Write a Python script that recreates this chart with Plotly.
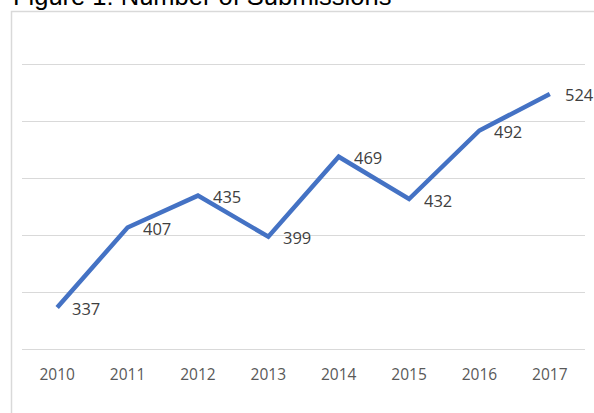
import plotly.graph_objects as go

years = ["2010", "2011", "2012", "2013", "2014", "2015", "2016", "2017"]
submissions = [337, 407, 435, 399, 469, 432, 492, 524]
y_ticks = [300, 350, 400, 450, 500, 550]

W, H = 594, 413
ml, mr, mt, mb = 22, 9, 62, 61
pw, ph = W - ml - mr, H - mt - mb
y_lo, y_hi = 298, 552

def px_x(px):
    return (px - ml) / pw

def px_y(py):
    return (H - mb - py) / ph

xi = list(range(len(years)))

fig = go.Figure()
fig.add_trace(go.Scatter(
    x=xi, y=submissions, mode="lines",
    line=dict(color="#4472C4", width=4.5, shape="linear"),
    hoverinfo="skip", showlegend=False, cliponaxis=False,
))

for i, v in zip(xi, submissions):
    fig.add_annotation(
        x=i, y=v, xref="x", yref="y", text=str(v), showarrow=False,
        xanchor="left", yanchor="middle", xshift=13, yshift=-1,
        font=dict(family="Open Sans", size=16.5, color="#404040"),
    )

# outer chart border
fig.add_shape(type="rect", xref="paper", yref="paper",
              x0=px_x(11.5), y0=px_y(430), x1=px_x(620), y1=px_y(11.5),
              line=dict(color="#D9D9D9", width=1.5), fillcolor="rgba(0,0,0,0)",
              layer="below")

fig.add_annotation(
    text="Figure 1: Number of Submissions", xref="paper", yref="paper",
    x=px_x(11), y=px_y(12), xanchor="left", yanchor="bottom", showarrow=False,
    font=dict(family="Liberation Sans, Arial", size=25.5, color="#000000"),
)

fig.update_layout(
    width=W, height=H,
    margin=dict(l=ml, r=mr, t=mt, b=mb, pad=0, autoexpand=False),
    paper_bgcolor="white", plot_bgcolor="white",
    xaxis=dict(range=[-0.5, len(years) - 0.5], tickvals=xi, ticktext=years,
               showgrid=False, zeroline=False, showline=False,
               ticks="outside", ticklen=8, tickcolor="rgba(0,0,0,0)",
               tickfont=dict(family="Open Sans", size=15.5, color="#595959"),
               fixedrange=True, automargin=False),
    yaxis=dict(range=[y_lo, y_hi], tickvals=y_ticks, showticklabels=False,
               showgrid=True, gridcolor="#D9D9D9", gridwidth=1.3,
               zeroline=False, showline=False, fixedrange=True, automargin=False),
)

fig.write_html("out.html", post_script="document.body.style.margin='0';",
               config={"displayModeBar": False})
